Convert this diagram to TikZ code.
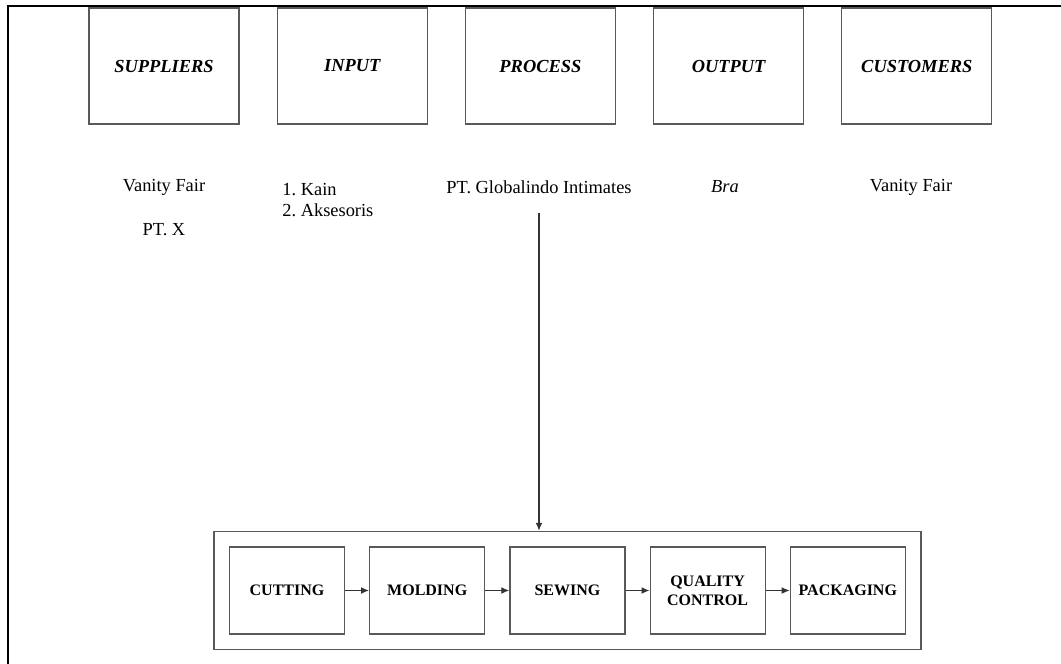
\documentclass[tikz,border=0pt]{standalone}
\usepackage{fontspec}
\setmainfont{Liberation Serif}
\usetikzlibrary{arrows.meta,positioning,fit}
\frenchspacing

\begin{document}
\begin{tikzpicture}[
    x=0.5pt, y=-0.5pt,
    font=\fontsize{9.2}{10.5}\selectfont,
    node distance=18.5pt,
    sipoc/.style={draw=black!65, line width=0.6pt, minimum width=75pt, minimum height=58pt, inner sep=0pt, font=\fontsize{9.2}{10.5}\selectfont\bfseries\itshape},
    stage/.style={draw=black!65, line width=0.6pt, minimum width=57.5pt, minimum height=43.5pt, inner sep=0pt, align=center, font=\fontsize{8}{9.5}\selectfont\bfseries},
    flow/.style={-{Latex[length=4pt,width=3.4pt]}, line width=0.6pt, draw=black!80}
]
\useasboundingbox (0,0) rectangle (1061,664);
\draw[line width=0.9pt] (8,664) -- (8,6) -- (1061,6);

\node[sipoc] (sup) at (164,66) {SUPPLIERS};
\node[sipoc, right=of sup] (inp) {INPUT};
\node[sipoc, right=of inp] (proc) {PROCESS};
\node[sipoc, right=of proc] (outp) {OUTPUT};
\node[sipoc, right=of outp] (cust) {CUSTOMERS};

\node (supa) at (164,187) {Vanity Fair};
\node (supb) at (164,230) {PT. X};
\node[anchor=west, align=left, inner sep=0pt] (inpl) at (282,200) {1. Kain\\2. Aksesoris};
\node (pgi) at (539,187) {PT. Globalindo Intimates};
\node (bra) at (725,187) {\itshape Bra};
\node (custa) at (911,187) {Vanity Fair};

\node[stage] (cut) at (287,590.5) {CUTTING};
\node[stage, right=12pt of cut] (mold) {MOLDING};
\node[stage, right=12pt of mold] (sew) {SEWING};
\node[stage, right=12pt of sew] (qc) {QUALITY\\CONTROL};
\node[stage, right=12pt of qc] (pack) {PACKAGING};
\node[draw=black!65, line width=0.6pt, fit=(cut)(pack), inner sep=7.5pt] (line) {};

\draw[flow] ([yshift=-6pt]pgi.south) -- (pgi.south |- line.north);
\draw[flow] (cut) -- (mold);
\draw[flow] (mold) -- (sew);
\draw[flow] (sew) -- (qc);
\draw[flow] (qc) -- (pack);
\end{tikzpicture}
\end{document}
